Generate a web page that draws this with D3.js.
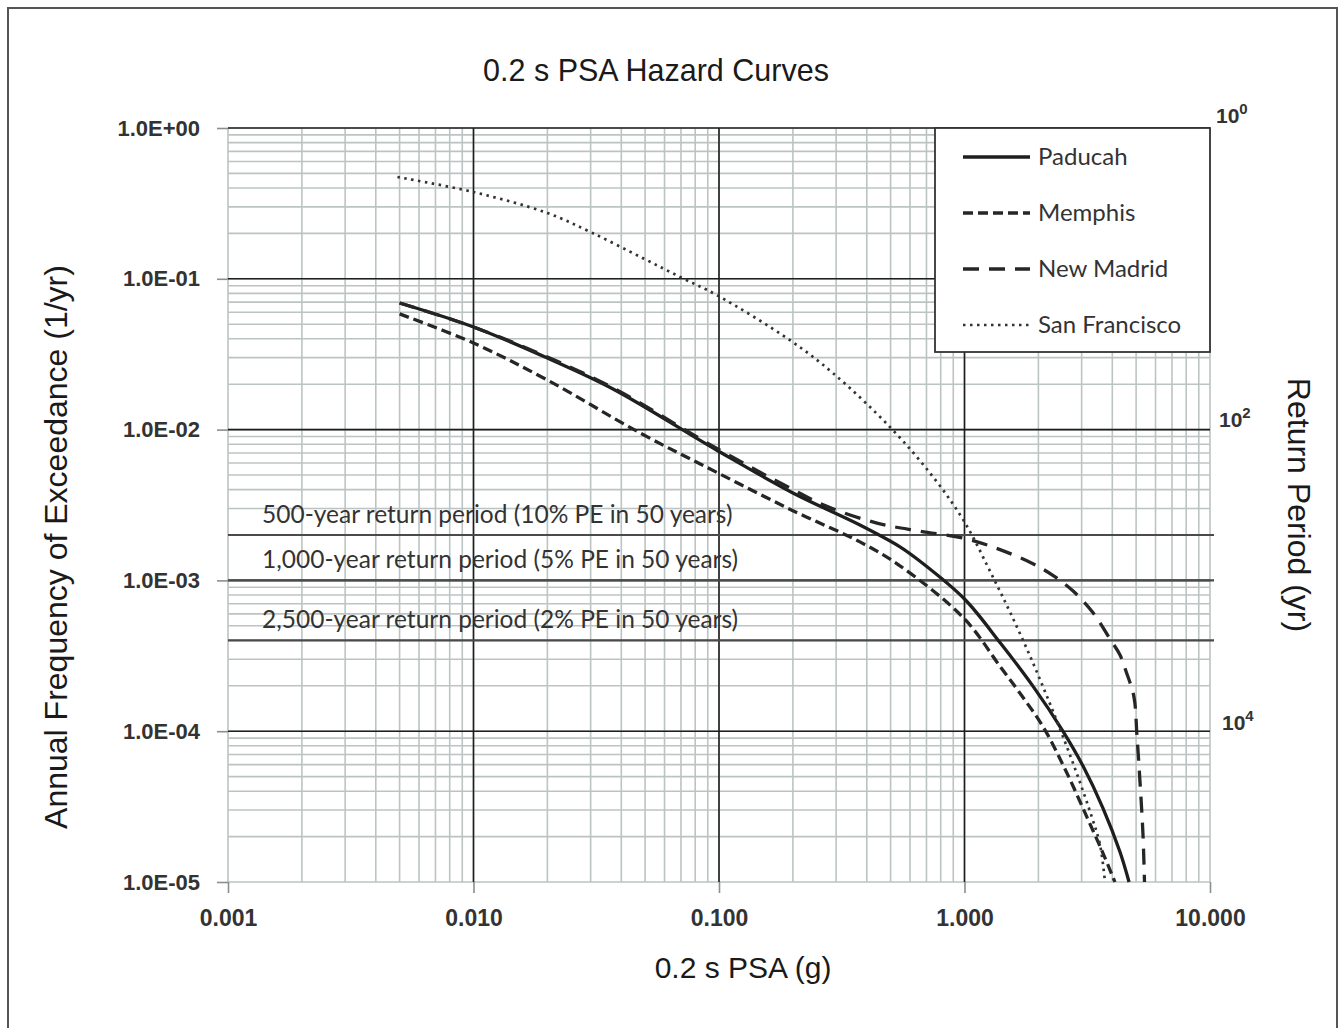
<!DOCTYPE html>
<html>
<head>
<meta charset="utf-8">
<script src="https://cdn.jsdelivr.net/npm/d3@7"></script>
<style>
  body { margin: 0; background: #fff; }
  svg { display: block; }
</style>
</head>
<body>
<svg id="chart" width="1340" height="1028"></svg>
<script>
// values (PSA in g, annual frequency of exceedance)
const paducahPsa  = [0.005, 0.01, 0.02, 0.037, 0.098, 0.2, 0.375, 0.546, 0.659, 1.0, 1.395, 1.90, 2.52, 3.04, 3.66, 4.30, 4.68];
const paducahFreq = [0.0691, 0.0479, 0.0298, 0.0186, 0.0073, 0.0038, 0.00233, 0.00167, 0.00134, 0.000753, 0.000387, 0.000199, 0.0000998, 0.0000587, 0.000031, 0.0000158, 0.00001];

const memphisPsa  = [0.005, 0.01, 0.02, 0.0477, 0.098, 0.2, 0.375, 0.546, 1.0, 1.40, 1.68, 2.09, 2.61, 3.15, 3.66, 4.10];
const memphisFreq = [0.0585, 0.0375, 0.0213, 0.0095, 0.0052, 0.0029, 0.0018, 0.00125, 0.000555, 0.000267, 0.000179, 0.000107, 0.000053, 0.000027, 0.0000156, 0.00001];

const newMadridPsa  = [0.005, 0.01, 0.02, 0.037, 0.098, 0.2, 0.275, 0.44, 0.66, 1.0, 1.395, 1.90, 2.29, 2.77, 3.34, 3.91, 4.30, 4.56, 4.90, 5.04, 5.19, 5.33, 5.41];
const newMadridFreq = [0.0691, 0.0479, 0.0303, 0.0189, 0.0075, 0.0040, 0.0031, 0.0024, 0.00212, 0.0019, 0.0016, 0.00129, 0.00108, 0.00085, 0.00061, 0.00041, 0.00032, 0.000247, 0.000169, 0.000094, 0.0000453, 0.0000211, 0.00001];

const sanFranPsa  = [0.0049, 0.01, 0.02, 0.03, 0.049, 0.071, 0.098, 0.194, 0.291, 0.497, 0.745, 1.0, 1.306, 1.532, 1.814, 2.128, 2.472, 2.872, 3.305, 3.564, 3.735];
const sanFranFreq = [0.473, 0.376, 0.273, 0.204, 0.137, 0.101, 0.078, 0.0393, 0.0237, 0.0104, 0.00485, 0.00244, 0.00105, 0.000617, 0.000338, 0.000183, 0.0000995, 0.000052, 0.0000268, 0.0000177, 0.00001];

const seriesNames = ["Paducah", "Memphis", "New Madrid", "San Francisco"];

// return period reference lines
const refFreq   = [0.002, 0.001, 0.0004];
const refLabels = ["500-year return period (10% PE in 50 years)",
                   "1,000-year return period (5% PE in 50 years)",
                   "2,500-year return period (2% PE in 50 years)"];

const xTicks = [0.001, 0.01, 0.1, 1, 10];
const yTicks = [1, 1e-1, 1e-2, 1e-3, 1e-4, 1e-5];
const returnTicks = [1, 100, 10000];

const svg = d3.select("#chart");
const margin = ({top: 128, right: 130, bottom: 146, left: 228});
const width = +svg.attr("width");
const height = +svg.attr("height");

const x = d3.scaleLog().domain([0.001, 10]).range([margin.left, width - margin.right]);
const y = d3.scaleLog().domain([1e-5, 1]).range([height - margin.bottom, margin.top]);
// right axis: return period = 1 / frequency
const yr = d3.scaleLog().domain([1e5, 1]).range([height - margin.bottom, margin.top]);

const x0 = x.range()[0], x1 = x.range()[1];
const y0 = y.range()[0], y1 = y.range()[1];

const sans = "'Liberation Sans', Arial, sans-serif";
const humanist = "Lato, 'Open Sans', sans-serif";

// outer frame
svg.append("rect")
    .attr("x", 8).attr("y", 8)
    .attr("width", 1329).attr("height", 1040)
    .attr("fill", "none")
    .attr("stroke", "#555")
    .attr("stroke-width", 2);

const minorColor = "#bcc3c3";
const majorColor = "#1e1e1e";

// grid: minor lines first (log ticks give 1..9 in every decade)
const grid = svg.append("g");
grid.selectAll(".vx").data(x.ticks())
    .join("line")
    .attr("x1", d => x(d)).attr("x2", d => x(d))
    .attr("y1", y1).attr("y2", y0)
    .attr("stroke", minorColor)
    .attr("stroke-width", 1.6);
grid.selectAll(".hy").data(y.ticks())
    .join("line")
    .attr("y1", d => y(d)).attr("y2", d => y(d))
    .attr("x1", x0).attr("x2", x1)
    .attr("stroke", minorColor)
    .attr("stroke-width", 1.6);

// major decade lines (inner decades plus the top)
grid.append("g").selectAll("line").data(xTicks.slice(1, -1))
    .join("line")
    .attr("x1", d => x(d)).attr("x2", d => x(d))
    .attr("y1", y1).attr("y2", y0)
    .attr("stroke", majorColor)
    .attr("stroke-width", 1.6);
grid.append("g").selectAll("line").data(yTicks.slice(0, -1))
    .join("line")
    .attr("y1", d => y(d)).attr("y2", d => y(d))
    .attr("x1", x0).attr("x2", x1)
    .attr("stroke", majorColor)
    .attr("stroke-width", 1.6);

// return period lines
svg.append("g").selectAll("line").data(refFreq)
    .join("line")
    .attr("x1", x0).attr("x2", x1 + 4)
    .attr("y1", d => y(d)).attr("y2", d => y(d))
    .attr("stroke", "#4a4a4a")
    .attr("stroke-width", 2.2);

svg.append("g").selectAll("text").data(refLabels)
    .join("text")
    .attr("x", 262)
    .attr("y", (d, i) => y(refFreq[i]) - 12)
    .attr("font-family", humanist)
    .attr("font-size", 24.5)
    .attr("fill", "#333")
    .text(d => d);

// axes
const yAxis = g => g
    .attr("transform", `translate(${x0},0)`)
    .call(d3.axisLeft(y).tickValues(yTicks).tickSize(11).tickPadding(17)
        .tickFormat(d => {
            const e = Math.round(Math.log10(d));
            return "1.0E" + (e < 0 ? "-" : "+") + String(Math.abs(e)).padStart(2, "0");
        }))
    .call(g => g.select(".domain").remove())
    .call(g => g.selectAll(".tick line").attr("stroke", "#8a8f8f").attr("stroke-width", 1.6))
    .call(g => g.selectAll(".tick text")
        .attr("font-family", sans)
        .attr("font-size", 22).attr("font-weight", "bold").attr("fill", "#333"));

const xAxis = g => g
    .attr("transform", `translate(0,${y0})`)
    .call(d3.axisBottom(x).tickValues(xTicks).tickSize(11).tickPadding(17)
        .tickFormat(d3.format(".3f")))
    .call(g => g.select(".domain").remove())
    .call(g => g.selectAll(".tick line").attr("stroke", "#8a8f8f").attr("stroke-width", 1.6))
    .call(g => g.selectAll(".tick text")
        .attr("font-family", sans)
        .attr("font-size", 23).attr("font-weight", "bold").attr("fill", "#333"));

svg.append("g").call(yAxis);
svg.append("g").call(xAxis);

// right axis labels (return period as powers of ten)
const rlab = svg.append("g").selectAll("text").data(returnTicks)
    .join("text")
    .attr("x", (d, i) => x1 + 6 + i * 3)
    .attr("y", (d, i) => yr(d) - 5 + i * 2)
    .attr("font-family", sans)
    .attr("font-size", 21)
    .attr("font-weight", "bold")
    .attr("fill", "#333");
rlab.append("tspan").text("10");
rlab.append("tspan")
    .attr("dy", -9)
    .attr("font-size", 15)
    .text(d => Math.round(Math.log10(d)));

// curves
const series = [
    {name: seriesNames[0], psa: paducahPsa, freq: paducahFreq, dash: null, w: 3.3, color: "#1e1e1e"},
    {name: seriesNames[1], psa: memphisPsa, freq: memphisFreq, dash: "10,5", w: 3.3, color: "#262626"},
    {name: seriesNames[2], psa: newMadridPsa, freq: newMadridFreq, dash: "16,10", w: 3.3, color: "#262626"},
    {name: seriesNames[3], psa: sanFranPsa, freq: sanFranFreq, dash: "2.5,4.5", w: 2.7, color: "#333"}
];

const line = d3.line()
    .x(d => x(d[0]))
    .y(d => y(d[1]))
    .curve(d3.curveCatmullRom.alpha(0.5));

svg.append("g").selectAll("path").data(series)
    .join("path")
    .attr("d", s => line(s.psa.map((p, i) => [p, s.freq[i]])))
    .attr("fill", "none")
    .attr("stroke", s => s.color)
    .attr("stroke-width", s => s.w)
    .attr("stroke-dasharray", s => s.dash);

// legend
const legend = svg.append("g");
legend.append("rect")
    .attr("x", 935).attr("y", y1)
    .attr("width", x1 - 935).attr("height", 224)
    .attr("fill", "#fff")
    .attr("stroke", "#333")
    .attr("stroke-width", 1.8);

const items = legend.selectAll("g").data(series)
    .join("g")
    .attr("transform", (d, i) => `translate(0,${157 + i * 56})`);
items.append("line")
    .attr("x1", 963).attr("x2", 1030)
    .attr("stroke", d => d.color)
    .attr("stroke-width", d => d.w)
    .attr("stroke-dasharray", d => d.dash);
items.append("text")
    .attr("x", 1038)
    .attr("dy", "0.35em")
    .attr("font-family", humanist)
    .attr("font-size", 24)
    .attr("fill", "#333")
    .text(d => d.name);

// titles
svg.append("text")
    .attr("x", 656).attr("y", 81)
    .attr("text-anchor", "middle")
    .attr("font-family", sans)
    .attr("font-size", 30.5)
    .attr("fill", "#1a1a1a")
    .text("0.2 s PSA Hazard Curves");

svg.append("text")
    .attr("x", 743).attr("y", 978)
    .attr("text-anchor", "middle")
    .attr("font-family", sans)
    .attr("font-size", 30)
    .attr("fill", "#1a1a1a")
    .text("0.2 s PSA (g)");

svg.append("text")
    .attr("transform", "translate(67,547) rotate(-90)")
    .attr("text-anchor", "middle")
    .attr("font-family", sans)
    .attr("font-size", 32)
    .attr("fill", "#1a1a1a")
    .text("Annual Frequency of Exceedance (1/yr)");

svg.append("text")
    .attr("transform", "translate(1288,505) rotate(90)")
    .attr("text-anchor", "middle")
    .attr("font-family", sans)
    .attr("font-size", 32)
    .attr("fill", "#1a1a1a")
    .text("Return Period (yr)");
</script>
</body>
</html>
